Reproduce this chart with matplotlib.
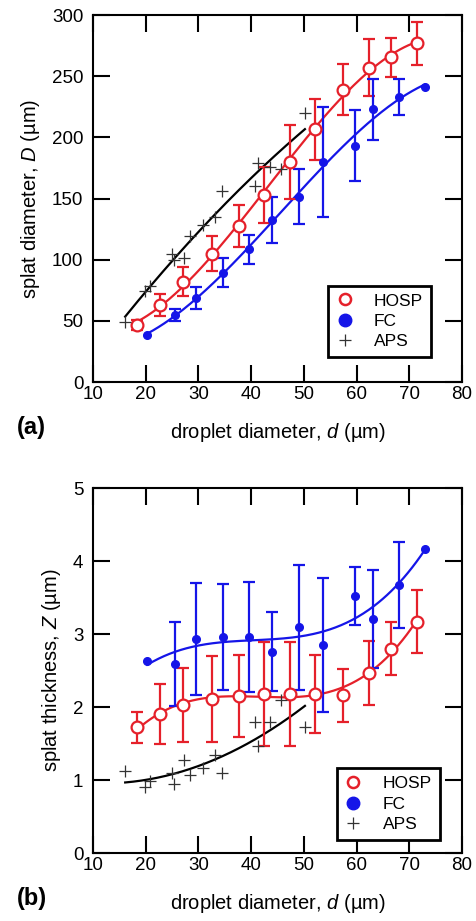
import numpy as np
import matplotlib
matplotlib.use("Agg")
from matplotlib import pyplot as plt
from matplotlib.lines import Line2D

plt.rcParams['font.family'] = ['Liberation Sans', 'DejaVu Sans']
plt.rcParams['mathtext.fontset'] = 'custom'
plt.rcParams['mathtext.rm'] = 'Liberation Sans'
plt.rcParams['mathtext.it'] = 'Liberation Sans:italic'

# (a) splat diameter
hosp_d = [18.4, 22.7, 27.1, 32.5, 37.7, 42.4, 47.4, 52.2, 57.5, 62.3, 66.6, 71.4]
hosp_D = [46.5, 63, 82, 105, 127.5, 153, 180, 206.5, 239, 257, 265.5, 277]
hosp_D_err = [4, 9, 12, 14, 17, 23, 30, 25, 21, 23, 16, 17.5]
fc_d = [20.3, 25.5, 29.6, 34.7, 39.5, 43.9, 49.1, 53.7, 59.75, 63.1, 68.1, 72.9]
fc_D = [38.5, 55, 69, 89.5, 108.5, 132.5, 151.5, 180, 193, 223, 233, 241]
fc_D_err = [0, 5, 9, 11.5, 12, 19, 22.5, 45, 29, 25, 15, 0]
aps_d = [16.1, 19.8, 20.8, 25.0, 25.4, 27.3, 28.4, 30.9, 33.2, 34.4, 40.8, 41.3, 43.6, 45.6, 50.2]
aps_D = [49, 74.5, 78.5, 105, 100, 101.5, 119.5, 128, 135, 156, 160, 179, 175.5, 174, 220]

# (b) splat thickness
hosp_Z = [1.72, 1.90, 2.03, 2.11, 2.15, 2.18, 2.18, 2.18, 2.16, 2.47, 2.80, 3.17]
hosp_Z_err = [0.21, 0.41, 0.51, 0.59, 0.56, 0.71, 0.71, 0.53, 0.36, 0.44, 0.36, 0.43]
fc_Z = [2.63, 2.59, 2.93, 2.96, 2.96, 2.76, 3.09, 2.85, 3.52, 3.21, 3.67, 4.17]
fc_Z_err = [0, 0.58, 0.77, 0.73, 0.75, 0.54, 0.86, 0.92, 0.40, 0.67, 0.59, 0]
aps_Z = [1.13, 0.90, 0.98, 1.09, 0.95, 1.28, 1.07, 1.17, 1.34, 1.10, 1.79, 1.46, 1.79, 2.09, 1.72]

RED = '#e5202a'
BLUE = '#1515e8'


def fit_line(ax, x, y, deg, color):
    # polynomial trend line through the measured points
    x = np.asarray(x)
    p = np.polyfit(x, y, deg)
    xs = np.linspace(x.min(), x.max(), 200)
    ax.plot(xs, np.polyval(p, xs), color=color, lw=1.6, zorder=2)


def with_bars(ax, x, y, err, color, **kw):
    x, y, err = np.asarray(x), np.asarray(y), np.asarray(err)
    m = err > 0
    ax.errorbar(x[m], y[m], yerr=err[m], fmt='none', ecolor=color,
                elinewidth=1.6, capsize=4.5, capthick=1.6, zorder=3)
    ax.plot(x, y, ls='none', zorder=4, **kw)


def draw_panel(ax, hy, herr, fy, ferr, ay, ylim, yticks, ylabel, tag, legpos):
    fit_line(ax, aps_d, ay, 2, 'black')
    fit_line(ax, hosp_d, hy, 3, RED)
    fit_line(ax, fc_d, fy, 3, BLUE)
    with_bars(ax, hosp_d, hy, herr, RED, marker='o', ms=8.5, mfc='white',
              mec=RED, mew=1.6)
    with_bars(ax, fc_d, fy, ferr, BLUE, marker='o', ms=5.5, mfc=BLUE,
              mec=BLUE)
    ax.plot(aps_d, ay, ls='none', marker='+', ms=8, mew=0.9, color='#333333',
            zorder=5)

    ax.set_xlim(10, 80)
    ax.set_ylim(*ylim)
    ax.set_xticks(range(10, 81, 10))
    ax.set_yticks(yticks)
    ax.tick_params(direction='in', length=12, width=1.5, labelsize=13.5,
                   top=True, right=True)
    ax.tick_params(axis='x', pad=2.5)
    ax.tick_params(axis='y', pad=7)
    for s in ax.spines.values():
        s.set_linewidth(1.5)
    ax.set_xlabel(r'droplet diameter, $\mathit{d}$ (µm)', fontsize=14.5, labelpad=13)
    ax.set_ylabel(ylabel, fontsize=14.5, labelpad=7)
    ax.text(-0.205, -0.125, tag, transform=ax.transAxes, fontsize=17,
            fontweight='bold', ha='left', va='center')

    # legend
    handles = [
        Line2D([], [], ls='none', marker='o', ms=8, mfc='white', mec=RED, mew=1.8),
        Line2D([], [], ls='none', marker='o', ms=9, mfc=BLUE, mec=BLUE),
        Line2D([], [], ls='none', marker='+', ms=9, mew=0.9, color='#333333'),
    ]
    leg = ax.legend(handles, ['HOSP', 'FC', 'APS'], loc='lower left',
                    bbox_to_anchor=legpos, borderaxespad=0, frameon=True,
                    fancybox=False, edgecolor='black', handlelength=1.0,
                    handletextpad=1.2, labelspacing=0.3, borderpad=0.45,
                    prop={'size': 12.5})
    leg.get_frame().set_linewidth(2)
    leg.get_frame().set_alpha(1)


fig = plt.figure(figsize=(4.77, 9.21), dpi=100)
ax1 = fig.add_axes([0.195, 0.5852, 0.7736, 0.3985])
ax2 = fig.add_axes([0.195, 0.0738, 0.7736, 0.3963])

draw_panel(ax1, hosp_D, hosp_D_err, fc_D, fc_D_err, aps_D, (0, 300),
           range(0, 301, 50), r'splat diameter, $\mathit{D}$ (µm)', '(a)',
           (0.637, 0.068))
draw_panel(ax2, hosp_Z, hosp_Z_err, fc_Z, fc_Z_err, aps_Z, (0, 5),
           range(0, 6), r'splat thickness, $\mathit{Z}$ (µm)', '(b)',
           (0.66, 0.036))

fig.savefig('out.png', dpi=100)
